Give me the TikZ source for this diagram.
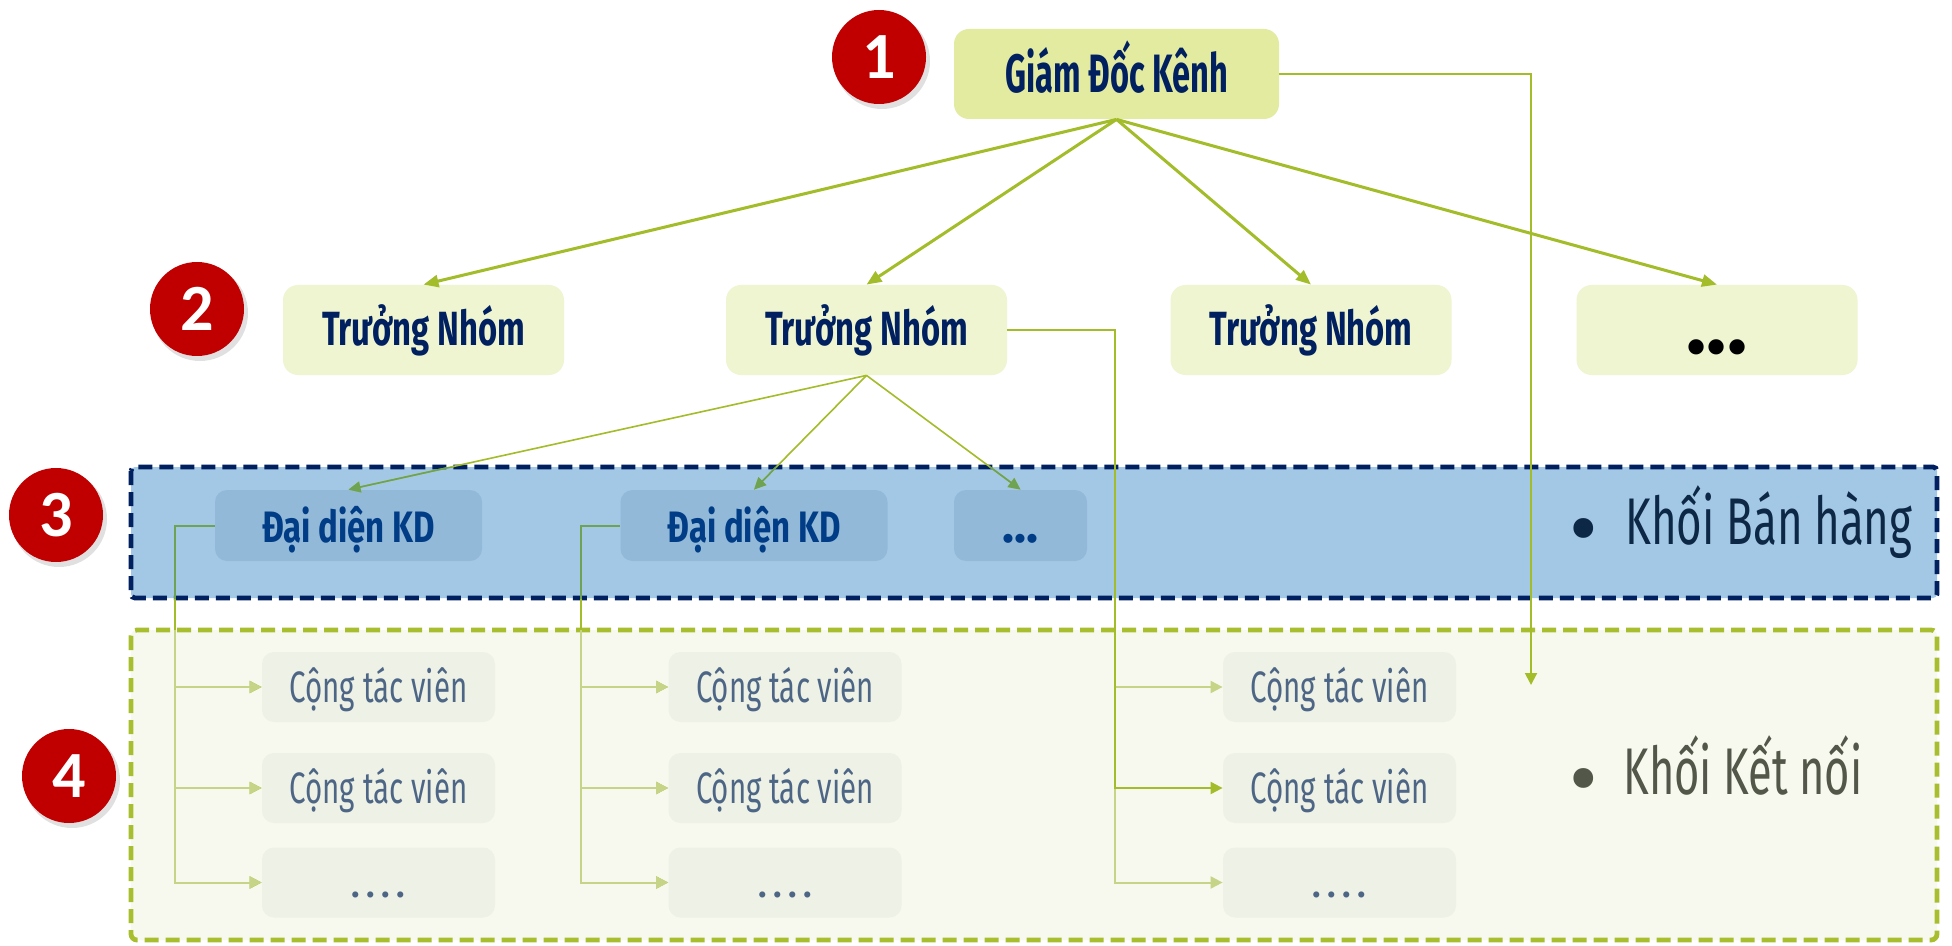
\documentclass[tikz,border=0pt]{standalone}
\usepackage{fontspec}
\setmainfont{Fira Sans}
\newfontfamily\digitfont{Carlito}
\usetikzlibrary{arrows.meta}
\definecolor{red1}{HTML}{C00000}
\definecolor{navy}{HTML}{002060}
\definecolor{gdkfill}{HTML}{E3EBA1}
\definecolor{tnfill}{HTML}{EFF5D0}
\definecolor{blueband}{HTML}{A3C8E6}
\definecolor{ddfill}{HTML}{93B9D9}
\definecolor{ddtext}{HTML}{003D86}
\definecolor{greenband}{HTML}{F7F9EE}
\definecolor{ctvfill}{HTML}{EEF1E5}
\definecolor{ctvtext}{HTML}{4E6686}
\definecolor{kbhtext}{HTML}{0D2846}
\definecolor{kkntext}{HTML}{53574A}
\definecolor{lineg}{HTML}{A3BC2A}
\definecolor{linegreen}{HTML}{6FA354}
\definecolor{linelight}{HTML}{C5D486}
\definecolor{greenborder}{HTML}{A9BE2E}
\newsavebox\fitbox
\newlength\fitlen
\newcommand\fitw[2]{\sbox\fitbox{#2}\setlength\fitlen{\wd\fitbox}\pgfmathsetmacro\fitr{#1/\fitlen}\scalebox{\fitr}[1]{\usebox\fitbox}}
\tikzset{
  numcirc/.style={circle, fill=red1, minimum size=47pt, inner sep=0pt, text=white,
    font=\digitfont\bfseries\fontsize{33}{33}\selectfont},
  numshadow/.style={circle, fill=black, opacity=0.12, minimum size=48pt, inner sep=0pt},
  gdkbox/.style={fill=gdkfill, rounded corners=7.5pt, minimum width=162.5pt, minimum height=45pt,
    inner sep=0pt, text=navy, font=\bfseries\fontsize{27}{28}\selectfont, text height=22pt, text depth=3pt},
  tnbox/.style={fill=tnfill, rounded corners=7.5pt, minimum width=140.5pt, minimum height=45pt,
    inner sep=0pt, text=navy, font=\bfseries\fontsize{24}{26}\selectfont, text height=18pt, text depth=3pt},
  ddbox/.style={fill=ddfill, rounded corners=6pt, minimum width=133.5pt, minimum height=35.5pt,
    inner sep=0pt, text=ddtext, font=\bfseries\fontsize{22}{24}\selectfont, text height=19.5pt, text depth=3pt},
  ctvbox/.style={fill=ctvfill, rounded corners=6pt, minimum width=116.5pt, minimum height=35pt,
    inner sep=0pt, text=ctvtext, font=\fontsize{22}{24}\selectfont, text height=18pt, text depth=3pt},
  khoi/.style={inner sep=0pt, font=\fontsize{33}{35}\selectfont},
  bulletnode/.style={inner sep=0pt, font=\fontsize{44}{44}\selectfont},
  lc/.style={draw=lineg},
  bigarr/.style={lc, line width=1.5pt, -{Triangle[length=7.5pt,width=6pt]}},
  midarr/.style={lc, line width=0.8pt, -{Triangle[length=6pt,width=5.5pt]}},
  smlarr/.style={lc, line width=1pt, -{Triangle[length=6pt,width=6pt]}},
  lightarr/.style={draw=linelight, line width=1pt, -{Triangle[length=6pt,width=6pt]}},
  bandborder/.style={line width=2.4pt, dash pattern=on 7pt off 3.5pt},
}
\newcommand\ddconnectors{%
  \draw[midarr] (tn2.south) -- (d1.north);
  \draw[midarr] (tn2.south) -- (d2.north);
  \draw[midarr] (tn2.south) -- (d3.north);
  \draw[smlarr] (d1.west) -- (v1) |- (c13.west);
  \draw[smlarr] (v1 |- c11.west) -- (c11.west);
  \draw[smlarr] (v1 |- c12.west) -- (c12.west);
  \draw[smlarr] (d2.west) -- (v2) |- (c23.west);
  \draw[smlarr] (v2 |- c21.west) -- (c21.west);
  \draw[smlarr] (v2 |- c22.west) -- (c22.west);
}
\begin{document}
\begin{tikzpicture}[x=0.5pt,y=-0.5pt]
\useasboundingbox[fill=white] (0,0) rectangle (1952,946);
% bands
\path[fill=blueband, draw=navy, bandborder, rounded corners=2pt]
  (131,467) rectangle (1937,598);
\path[fill=greenband, draw=greenborder, bandborder, rounded corners=3pt]
  (131,630) rectangle (1937,940);
% numbers
\foreach \p in {(879,57),(197,309),(56,515),(69,776)}{
  \path \p ++(3,4) node[numshadow] {};
}
\node (n1) [numcirc] at (879,57) {1};
\node (n2) [numcirc] at (197,309) {2};
\node (n3) [numcirc] at (56,515) {3};
\node (n4) [numcirc] at (69,776) {4};
% boxes
\node (gdk) [gdkbox] at (1116.5,74) {\fitw{111.5}{Giám Đốc Kênh}};
\node (tn1) [tnbox] at (423.5,330) {\fitw{101.5}{Trưởng Nhóm}};
\node (tn2) [tnbox] at (866.5,330) {\fitw{101.5}{Trưởng Nhóm}};
\node (tn3) [tnbox] at (1311,330) {\fitw{101.5}{Trưởng Nhóm}};
\node (tn4) [tnbox, text=black, font=\bfseries\fontsize{42}{42}\selectfont, text height=26pt, text depth=3pt] at (1717,330) {...};
\node (d1) [ddbox] at (348.5,525.5) {\fitw{86.5}{Đại diện KD}};
\node (d2) [ddbox] at (754,525.5) {\fitw{86.5}{Đại diện KD}};
\node (d3) [ddbox, minimum width=66.5pt, font=\bfseries\fontsize{25}{25}\selectfont] at (1020.5,525.5) {...};
\foreach \c/\x in {1/378.5, 2/785, 3/1339.5}{
  \node (c\c1) [ctvbox] at (\x,687) {\fitw{89}{Cộng tác viên}};
  \node (c\c2) [ctvbox] at (\x,788) {\fitw{89}{Cộng tác viên}};
  \node (c\c3) [ctvbox] at (\x,882.5) {.\kern2.2pt.\kern2.2pt.\kern2.2pt.};
}
% block labels
\node (kbhdot) [bulletnode, text=kbhtext, anchor=center] at (1584,539) {•};
\node (kbh) [khoi, text=kbhtext, anchor=base west] at (1625,544) {\fitw{143.5}{Khối Bán hàng}};
\node (kkndot) [bulletnode, text=kkntext, anchor=center] at (1584,789) {•};
\node (kkn) [khoi, text=kkntext, anchor=base west] at (1623,794) {\fitw{119.5}{Khối Kết nối}};
% coordinates
\coordinate (v1) at (175,525.5);
\coordinate (v2) at (581,525.5);
\coordinate (tnv) at (1115,330);
\coordinate (gdkend) at (1531,685);
% connectors from director
\foreach \t in {tn1,tn2,tn3,tn4}{ \draw[bigarr] (gdk.south) -- (\t.north); }
% connectors to sales reps and collaborators (recoloured inside the bands)
\ddconnectors
\begin{scope}
  \clip (131,467) rectangle (1937,598);
  \tikzset{lc/.style={draw=linegreen}}
  \ddconnectors
\end{scope}
\begin{scope}
  \clip (131,630) rectangle (1937,940);
  \tikzset{lc/.style={draw=linelight}}
  \ddconnectors
\end{scope}
% third column collaborators
\draw[lightarr] (tnv |- c31.west) -- (c31.west);
\draw[lightarr] (tnv |- c32.west) -- (tnv |- c33.west) -- (c33.west);
\draw[smlarr] (tn2.east) -- (tnv) |- (c32.west);
% director side line
\draw[smlarr] (gdk.east) -| (gdkend);
\end{tikzpicture}
\end{document}
